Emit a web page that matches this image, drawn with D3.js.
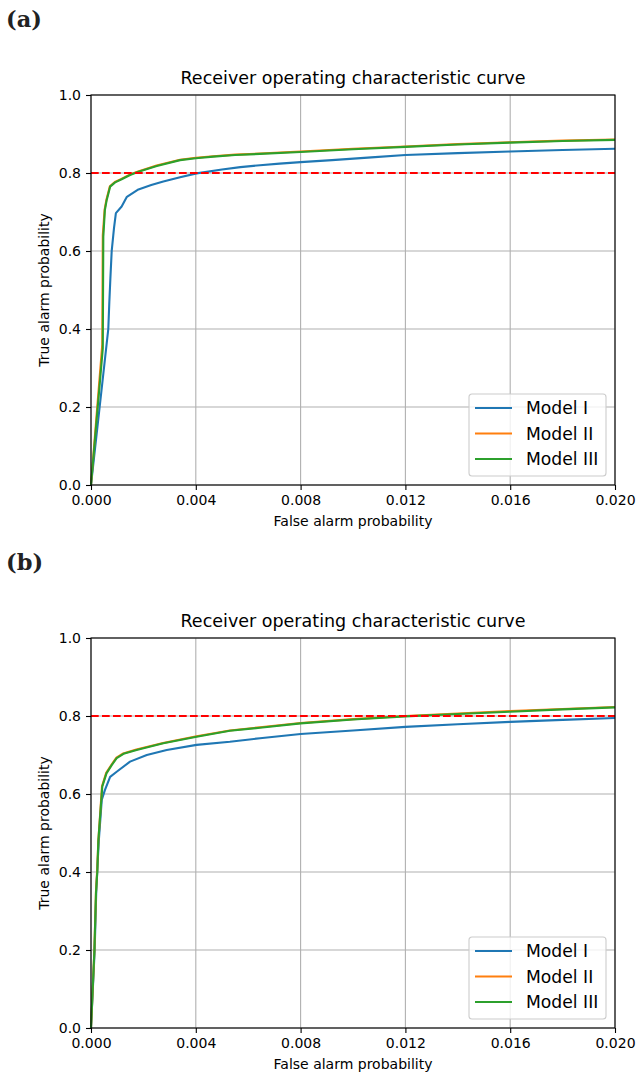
<!DOCTYPE html>
<html>
<head>
<meta charset="utf-8">
<script src="https://cdn.jsdelivr.net/npm/d3@7"></script>
<style>
  body { margin: 0; background: #fff; }
  svg { display: block; }
</style>
</head>
<body>
<svg id="fig" width="637" height="1072"></svg>
<script>
// Axis ticks and labels
const xTicks = [0, 0.004, 0.008, 0.012, 0.016, 0.020];
const yTicks = [0, 0.2, 0.4, 0.6, 0.8, 1.0];
const models = ["Model I", "Model II", "Model III"];
const modelColors = ["#1f77b4", "#ff7f0e", "#2ca02c"];
const panelLabels = ["(a)", "(b)"];
const chartTitle = "Receiver operating characteristic curve";
const xLabel = "False alarm probability";
const yLabel = "True alarm probability";
const targetTpr = 0.8;

// Panel (a): [false alarm probability, true alarm probability]
const rocA_model1 = [
  [0, 0], [0.00066, 0.40], [0.00070, 0.47], [0.00074, 0.53], [0.00079, 0.60],
  [0.00085, 0.64], [0.00088, 0.66], [0.00095, 0.697], [0.00117, 0.714],
  [0.00137, 0.739], [0.00181, 0.758], [0.00230, 0.769], [0.00276, 0.778],
  [0.00340, 0.789], [0.00403, 0.799], [0.00500, 0.809], [0.00570, 0.815],
  [0.00645, 0.820], [0.00720, 0.824], [0.008, 0.828], [0.0092, 0.833],
  [0.0107, 0.840], [0.012, 0.846], [0.014, 0.851], [0.016, 0.855],
  [0.018, 0.859], [0.020, 0.862]
];
const rocA_model2 = [
  [0, 0], [0.00043, 0.36], [0.00045, 0.64], [0.00052, 0.706], [0.00059, 0.732],
  [0.00072, 0.766], [0.00091, 0.777], [0.00116, 0.785], [0.00148, 0.796],
  [0.00180, 0.804], [0.00250, 0.819], [0.00340, 0.834], [0.00400, 0.839],
  [0.00467, 0.843], [0.00550, 0.847], [0.00645, 0.850], [0.008, 0.855],
  [0.010, 0.862], [0.012, 0.868], [0.014, 0.874], [0.016, 0.879],
  [0.018, 0.883], [0.020, 0.886]
];
const rocA_model3 = [
  [0, 0], [0.00045, 0.35], [0.00047, 0.637], [0.00053, 0.705], [0.00060, 0.731],
  [0.00073, 0.765], [0.00092, 0.776], [0.00117, 0.784], [0.00149, 0.795],
  [0.00181, 0.803], [0.00251, 0.818], [0.00340, 0.833], [0.00400, 0.838],
  [0.00467, 0.842], [0.00550, 0.846], [0.00645, 0.849], [0.008, 0.854],
  [0.010, 0.861], [0.012, 0.867], [0.014, 0.873], [0.016, 0.878],
  [0.018, 0.882], [0.020, 0.885]
];

// Panel (b)
const rocB_model1 = [
  [0, 0], [0.00014, 0.20], [0.00020, 0.35], [0.00025, 0.42], [0.00030, 0.482],
  [0.00041, 0.585], [0.00053, 0.610], [0.00073, 0.644], [0.00098, 0.657],
  [0.00149, 0.683], [0.00213, 0.700], [0.00289, 0.713], [0.00403, 0.726],
  [0.0053, 0.734], [0.00645, 0.743], [0.008, 0.754], [0.010, 0.763],
  [0.012, 0.772], [0.014, 0.779], [0.016, 0.785], [0.018, 0.790], [0.020, 0.795]
];
const rocB_model2 = [
  [0, 0], [0.00013, 0.20], [0.00019, 0.35], [0.00024, 0.41], [0.00028, 0.48],
  [0.00042, 0.62], [0.00058, 0.654], [0.00078, 0.675], [0.00097, 0.693],
  [0.00123, 0.704], [0.00173, 0.714], [0.00275, 0.731], [0.00403, 0.748],
  [0.0053, 0.763], [0.00645, 0.771], [0.008, 0.782], [0.010, 0.792],
  [0.012, 0.800], [0.014, 0.806], [0.016, 0.813], [0.018, 0.818], [0.020, 0.823]
];
const rocB_model3 = [
  [0, 0], [0.00013, 0.20], [0.00019, 0.346], [0.00024, 0.40], [0.00028, 0.48],
  [0.00043, 0.619], [0.00059, 0.653], [0.00079, 0.674], [0.00098, 0.692],
  [0.00124, 0.703], [0.00174, 0.713], [0.00276, 0.730], [0.00403, 0.747],
  [0.0053, 0.762], [0.00645, 0.770], [0.008, 0.781], [0.010, 0.791],
  [0.012, 0.799], [0.014, 0.805], [0.016, 0.811], [0.018, 0.817], [0.020, 0.822]
];

const panels = [
  { label: panelLabels[0], series: [rocA_model1, rocA_model2, rocA_model3], offset: 0 },
  { label: panelLabels[1], series: [rocB_model1, rocB_model2, rocB_model3], offset: 543 }
];

const FONT = "DejaVu Sans, sans-serif";
const svg = d3.select("#fig");

const x = d3.scaleLinear().domain([0, 0.02]).range([91, 615]);
const y = d3.scaleLinear().domain([0, 1]).range([485, 95]);

panels.forEach(p => {
  const g = svg.append("g").attr("transform", `translate(0,${p.offset})`);

  // panel letter
  g.append("text")
    .attr("x", 6).attr("y", 27)
    .attr("font-family", "DejaVu Serif, serif")
    .attr("font-weight", "bold")
    .attr("font-size", 22.5)
    .attr("fill", "#222")
    .text(p.label);

  // grid
  g.append("g").selectAll("line").data(xTicks).join("line")
    .attr("x1", d => x(d)).attr("x2", d => x(d))
    .attr("y1", y(0)).attr("y2", y(1))
    .attr("stroke", "#b0b0b0").attr("stroke-width", 1.1);
  g.append("g").selectAll("line").data(yTicks).join("line")
    .attr("y1", d => y(d)).attr("y2", d => y(d))
    .attr("x1", x(0)).attr("x2", x(0.02))
    .attr("stroke", "#b0b0b0").attr("stroke-width", 1.1);

  // curves
  const line = d3.line().x(d => x(d[0])).y(d => y(d[1]));
  p.series.forEach((s, i) => {
    g.append("path").datum(s)
      .attr("d", line)
      .attr("fill", "none")
      .attr("stroke", modelColors[i])
      .attr("stroke-width", 2.1)
      .attr("stroke-linejoin", "round");
  });

  // target line
  g.append("line")
    .attr("x1", x(0)).attr("x2", x(0.02))
    .attr("y1", y(targetTpr)).attr("y2", y(targetTpr))
    .attr("stroke", "#ff0000").attr("stroke-width", 2.1)
    .attr("stroke-dasharray", "7.7,3.3");

  // axes
  const xAxis = d3.axisBottom(x).tickValues(xTicks).tickFormat(d3.format(".3f"))
    .tickSize(5).tickPadding(5);
  const yAxis = d3.axisLeft(y).tickValues(yTicks).tickFormat(d3.format(".1f"))
    .tickSize(5).tickPadding(5);
  const gx = g.append("g").attr("transform", `translate(0,${y(0)})`).call(xAxis);
  const gy = g.append("g").attr("transform", `translate(${x(0)},0)`).call(yAxis);
  [gx, gy].forEach(a => {
    a.select(".domain").remove();
    a.selectAll(".tick line").attr("stroke", "#000").attr("stroke-width", 1.1);
    a.selectAll(".tick text").attr("font-family", FONT).attr("font-size", 14).attr("fill", "#000");
  });
  gx.selectAll(".tick text").attr("dy", "0.74em");

  // frame
  g.append("rect")
    .attr("x", x(0)).attr("y", y(1))
    .attr("width", x(0.02) - x(0)).attr("height", y(0) - y(1))
    .attr("fill", "none").attr("stroke", "#000").attr("stroke-width", 1.1);

  // title & labels
  g.append("text")
    .attr("x", (x(0) + x(0.02)) / 2).attr("y", 84)
    .attr("text-anchor", "middle")
    .attr("font-family", FONT).attr("font-size", 17.5)
    .text(chartTitle);
  g.append("text")
    .attr("x", (x(0) + x(0.02)) / 2).attr("y", 525.5)
    .attr("text-anchor", "middle")
    .attr("font-family", FONT).attr("font-size", 14)
    .text(xLabel);
  g.append("text")
    .attr("transform", `translate(48.5,${(y(0) + y(1)) / 2}) rotate(-90)`)
    .attr("text-anchor", "middle")
    .attr("font-family", FONT).attr("font-size", 14)
    .text(yLabel);

  // legend
  const lg = g.append("g").attr("transform", "translate(469,394)");
  lg.append("rect")
    .attr("width", 137).attr("height", 82).attr("rx", 3)
    .attr("fill", "#fff").attr("fill-opacity", 0.8)
    .attr("stroke", "#cccccc").attr("stroke-width", 1.1);
  models.forEach((m, i) => {
    const cy = 14 + i * 25.5;
    lg.append("line")
      .attr("x1", 6).attr("x2", 43).attr("y1", cy).attr("y2", cy)
      .attr("stroke", modelColors[i]).attr("stroke-width", 2.1);
    lg.append("text")
      .attr("x", 57).attr("y", cy + 6.2)
      .attr("font-family", FONT).attr("font-size", 17.2)
      .text(m);
  });
});
</script>
</body>
</html>
